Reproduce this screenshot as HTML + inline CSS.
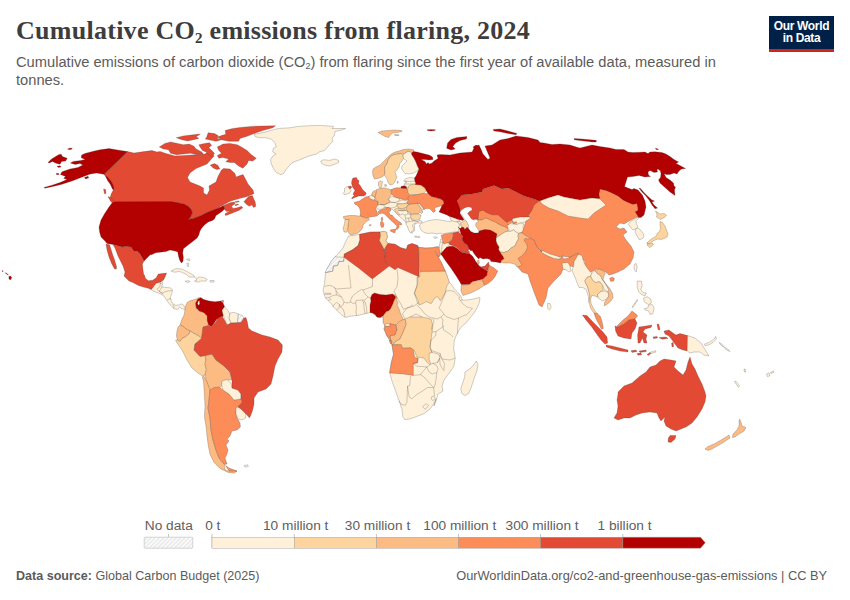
<!DOCTYPE html>
<html lang="en">
<head>
<meta charset="utf-8">
<title>Cumulative CO2 emissions from flaring, 2024</title>
<style>
html,body{margin:0;padding:0;background:#fff;}
body{width:850px;height:600px;position:relative;overflow:hidden;font-family:"Liberation Sans",sans-serif;color:#5b5b5b;}
.abs{position:absolute;white-space:nowrap;}
#title{left:16px;top:15px;font-family:"Liberation Serif",serif;font-weight:bold;font-size:26px;line-height:32px;color:#3d3d3d;letter-spacing:0.27px;}
#title sub{font-size:15px;vertical-align:baseline;position:relative;top:4px;line-height:0;}
#subtitle{left:16px;top:52.5px;font-size:14.68px;line-height:18.5px;color:#5b5b5b;white-space:normal;width:720px;}
#subtitle sub{font-size:9px;vertical-align:baseline;position:relative;top:2px;line-height:0;}
#logo{left:769px;top:16px;width:65px;height:33px;background:#002147;border-bottom:3px solid #ce261e;color:#fff;font-weight:bold;font-size:12px;line-height:11.5px;text-align:center;letter-spacing:-0.35px;}
#logo span{display:block;}
.lg{font-size:13.7px;line-height:16px;color:#606060;top:518px;transform:translateX(-50%);}
#src{left:16px;top:568px;font-size:12.55px;line-height:16px;color:#5b5b5b;}
#src b{color:#5b5b5b;}
#url{right:23px;top:568px;font-size:12.8px;line-height:16px;color:#5b5b5b;}
svg{position:absolute;left:0;top:0;}
.b{fill:none;}
</style>
</head>
<body>
<div id="title" class="abs">Cumulative CO<sub>2</sub> emissions from flaring, 2024</div>
<div id="subtitle" class="abs">Cumulative emissions of carbon dioxide (CO<sub>2</sub>) from flaring since the first year of available data, measured in tonnes.</div>
<div id="logo" class="abs"><span style="margin-top:5px">Our World</span><span>in Data</span></div>
<svg width="850" height="600" viewBox="0 0 850 600">
<defs><pattern id="nd" width="3" height="3" patternUnits="userSpaceOnUse" patternTransform="rotate(45)"><rect width="3" height="3" fill="#fff"/><path d="M1,0 V3" stroke="#e2e2e2" stroke-width="1.3"/></pattern></defs>
<g stroke="#333" stroke-opacity="0.6" stroke-width="0.4" stroke-linejoin="round">
<path fill="#b30000" d="M48,162.4 51.6,159 55.6,156.6 59,154.4 61.2,154.2 62.4,156.6 67.2,158.2 65.6,161 61.6,161.6 60,164.2 56,163.2 52.4,161.4 49.2,163Z"/>
<path fill="#b30000" d="M67.6,149 70,148 72.4,148.4 71.2,149.4 68.4,149.6Z"/>
<path fill="#b30000" d="M57,166.2 60,165.8 61.2,167 58.4,167.4Z"/>
<path fill="#b30000" d="M56,173.6 58.4,173.2 59.2,174.4 56.8,174.8Z"/>
<path fill="#e34a33" d="M127.6,151.6 134,153 144,151.6 152,150.6 157,152 160,151.4 166,153.5 175,156 184,155.5 192,155 205,154 211,150 214,156 207,164 196,168.5 190,173 187.5,177.5 190,182 200,186 203.5,188 203.5,193 207,195 209.5,190 209,186 216,182 218,176.5 221.5,170 223.5,168.5 230,169 235,173.5 236,177 243,174.5 246,180 248,184 253,190 254,193.5 252.1,194.4 246.4,196.8 239.3,198.6 230.8,201 224.5,204.3 220.2,206.4 219.5,207.7 213.8,209.8 206.8,212.6 201.1,215.5 194,218.3 188.3,219.4 190.5,216.9 192.3,213.3 191.5,209.8 188.3,206.3 184.1,204.1 178.4,203.1 172.8,202.7 171.3,201.7 160,201.7 114.4,201.5 112,200.6 110,198 111.2,194 113.2,190.2 112.8,187 111,183 108,179.4 104.4,174Z"/>
<path fill="#e34a33" d="M222.3,206 225.2,204.8 230.8,202.6 234.4,202.1 235.1,203.7 231.5,206.3 233,208.4 237.2,207.7 241.5,206.3 242.9,207.7 239.3,210.2 233.7,212.6 228,214.8 225.5,215.6 224.9,214 228,211.9 230.8,210.5 226.6,211.4 224.5,209.4 224,206.5Z"/>
<path fill="#e34a33" d="M108,196.6 110.4,197.4 113.2,200.6 115.2,204.2 113.6,204.6 110.4,201Z"/>
<path fill="#e34a33" d="M103.6,189 105.6,189.4 106,193.4 104.4,193.8Z"/>
<path fill="#e34a33" d="M225.1,130.6 231.5,128.8 240,127.4 251.3,126.4 262.7,126 275.4,125.7 272.9,127.8 262.7,130.6 254.2,133.5 247.1,136.3 240,138.4 238.6,141.3 228.7,141.3 221.6,139.8 217.3,137 221.6,135.6 225.8,134.2Z"/>
<path fill="#e34a33" d="M208.1,132.8 214.5,133.5 218,135.6 217.3,138.4 221.6,139.8 215.9,141.3 208.8,139.8 205.3,139.1 206.7,137Z"/>
<path fill="#e34a33" d="M176.3,137.7 183.3,135.9 189,135.3 197.5,134.2 200.3,134.2 196.1,136.7 198.9,138.4 193.3,139.8 187.6,141 181.9,139.8Z"/>
<path fill="#e34a33" d="M159.3,146.9 164.9,143.4 170.6,142 177.7,143.4 183.3,144.8 189,144.1 194,146.2 196.1,149 201.8,151.9 203.2,154 197.5,154.7 190.4,153.3 183.3,154 176.3,154.7 170.6,153.3 168.5,149.8 163.5,149Z"/>
<path fill="#e34a33" d="M198.9,144.8 204.6,143.4 209.5,142.7 211.7,145.5 208.8,147.6 211.7,150.5 214.5,153.3 211.7,156.8 208.8,154.7 206,151.9 202.5,150.5 200.3,147.6Z"/>
<path fill="#e34a33" d="M217.3,146.9 223,144.1 230.1,143.4 237.2,144.8 241.4,146.9 247.1,150.5 251.3,154.7 256.3,158.3 252.8,161.1 248.5,160.4 247.1,163.9 242.8,168.2 238.6,166 234.3,162.5 230.1,162.5 225.8,161.8 228.7,159 223,157.5 218.8,158.3 217.3,155.4 221.6,153.3 218.8,150.5Z"/>
<path fill="#e34a33" d="M210.3,165.1 214.5,163.6 218,165.6 219.9,168.9 216.6,169.6 213.1,167.9Z"/>
<path fill="#e34a33" d="M243.9,201.7 248.5,196.6 252.4,195.6 253.8,198.9 255.2,202 255.8,206.3 253.5,207.4 251.8,204.8 249.3,206.3 246.7,204.6Z"/>
<path fill="#e34a33" d="M234.8,204.8 237.9,204 238.6,204.8 235.4,205.7Z"/>
<path fill="#e34a33" d="M234.8,201.7 238.8,200.9 239.3,201.7 235.8,202.6Z"/>
<path fill="#b30000" d="M127.6,151.6 119,150.2 109,148.6 100,149.8 92.4,151.4 85,153.4 81.6,155 81.2,157.8 85.2,159.4 80.8,160.6 73.2,161.4 70.4,163 75.2,164.4 80,163.6 82.8,165 78,167.4 70,169 62,171.8 60.4,174.4 65.6,176.6 63.6,178.2 67,179.4 60,182.6 52,185.2 44,187.4 44.8,188.2 54,186.2 62,184.2 72,181 81,177.6 89.6,174.2 96.4,173 103.6,174.2 108,177.4 111.2,181.4 113.2,185.4 114,189.4 112.4,189 110.4,184.6 107.6,180.6 104.4,174Z"/>
<path fill="#b30000" d="M84.4,177.4 88,176.2 88.8,177.8 85.6,179Z"/>
<path fill="#b30000" fill-rule="evenodd" d="M184,204 171,201.6 114.4,201.6 112,203 109,207 105,213 101,220 99,227 99.6,232 101,237 105,241 107,243.6 113,244.4 122,247 126,246.4 131,247 134,251.6 137,251 140,254 142.4,258 144,261.2 146,259 150,255 151.1,254.4 151.5,254.7 155.7,252.7 160,252.3 162.2,251.9 166,251.6 170,250 175,251 177.8,252.1 178.4,255.8 179.6,260.1 181.3,262.9 183,261.5 183.4,257.3 182.7,253 183.4,248.8 186.2,246.6 189.8,243.8 193.3,241 197.1,238.1 199,234.6 199.7,231.8 201.1,228.9 203.9,225.4 208.2,222.1 212.4,220.4 214.5,219 216,215.5 219.5,213.3 222.3,211.2 224.5,209.1 224,206.5 222.3,206 219.5,207.7 213.8,209.8 206.8,212.6 201.1,215.5 194,218.3 188.3,219.4 190.5,216.9 192.3,213.3 191.5,209.8 188.3,206.3 184.1,204.1 184,204.1Z"/>
<path fill="#b30000" d="M8.8,276.5 10.6,276 11.8,277.8 10.4,280 9,279Z"/>
<path fill="#b30000" d="M2,270.6 3,270.8 3.2,271.6 2.2,271.4Z"/>
<path fill="#b30000" d="M5,272.6 7,273.4 8.5,275 7,274.6Z"/>
<path fill="#e34a33" d="M106,244 109.6,244.8 111.2,250 112.6,254.4 114.6,260 116.6,267 116.2,269.2 114.4,268.8 111.6,263.6 109,257 107,250Z"/>
<path fill="#e34a33" d="M113,244.4 122,247 126,246.4 131,247 134,251.6 137,251 140,254 142.4,258 144,261 142.4,264 143,270 144,276 144.2,274.8 145.6,278.4 148.4,280.8 152.7,280.2 156.2,277.7 158.3,274.1 166.6,273.1 165.4,276.3 163.7,279.8 161.9,281.2 160.5,282.2 156.2,283.3 153.4,286.9 151.3,289.7 148.4,288.3 144.2,287.3 138.5,285.5 132.8,282.6 129,281 124,276 125,272 123,266 118,256 115,248Z"/>
<path fill="#fef0d9" d="M151.3,289.7 153.4,286.9 156.2,283.3 160.5,282.2 161.9,281.2 162.9,283.3 161.9,286.9 165.4,287.3 170.4,287.9 172.5,289.7 171.8,293.3 170.4,297.5 171.1,300.3 172.5,303.2 175.3,305.3 178.9,304.9 181.7,303.9 183.8,305.3 185.3,308.1 184.5,309.5 181.7,308.6 179.6,307.1 177.5,309.5 174.6,308.8 171.8,306.7 169,303.2 166.1,299.6 164,296.1 160.5,294 156.9,292.5 153.4,291.1Z"/>
<path class="b" d="M160.5,282.2 159.8,286.9 156.9,289 159,291.1"/>
<path class="b" d="M159.8,283.3 162.3,284"/>
<path class="b" d="M161.9,286.9 160.5,289.7 159,291.1 161.9,293.3 164.7,291.8 168.3,291.1 172.2,290.4"/>
<path class="b" d="M159,291.1 163.3,294"/>
<path class="b" d="M167.1,300.1 169.7,298.6 171.1,299.2"/>
<path class="b" d="M172.5,303.9 174.2,306 173.6,308.6"/>
<path fill="#fef0d9" d="M171,271 176,268.6 182,269 188,272 194,275.6 195.2,277.2 189,277 186,274.2 180,271.6 174,272.2Z"/>
<path fill="#fef0d9" d="M195.6,278.4 199,277.2 203,277.2 207.2,279.2 206,281.2 201.2,281 198,282.2 194.4,281 197,280Z"/>
<path fill="#fef0d9" d="M185.2,281.2 188,280.6 190,281.6 187.6,282.6Z"/>
<path fill="url(#nd)" d="M210,280.5 214,280.5 214.3,282.1 210.3,282.2Z"/>
<path fill="#fef0d9" d="M186.4,259.2 189.6,258.8 190,260.4 187.6,260.4Z"/>
<path fill="#fef0d9" d="M186.8,263.2 188.4,263 188.8,266.4 187.4,266.4Z"/>
<path fill="#fdbb84" d="M185.6,306 187.2,302.4 190,300.8 196,299 199.2,297.4 200.4,298.4 198,301 195.6,305 197,310 202,312 207,313 208,319 208.4,325.6 203.6,327 202.4,332 201.6,338.4 199,336 195,334 190,331 186,329 183,326.4 180,325 181.6,320 184,315 185,310Z"/>
<path fill="#fdbb84" d="M180,325 183,326.4 186,329 190,331 189,334 185,337 182,338.4 180,341.6 177.6,340 176.4,336 177,331 178,327Z"/>
<path fill="#fdd49e" d="M180,341.6 182,338.4 185,337 189,334 190,331 195,334 199,336 201.6,338.4 195,344 194,350 200,356.4 205,355.6 206,360 205,364 206.4,370 205,375 203,376.4 198,373 192,368 187,360 182,350 177,343 175.6,340 177.6,340Z"/>
<path fill="#fdbb84" d="M205,355.6 212,354 216,360 224,366 230,372 232,380 227,380 222.4,382 221.6,386 219,388 214,389 210,392 208,386 206,380 205,375 206.4,370 205,364 206,360Z"/>
<path fill="#fdbb84" d="M203.6,376 207,382 210,390 209,400 208,408 210,418 211,430 213,440 216,450 219,458 224.4,464.4 225.2,470 229,471.2 237,471.2 234,473.2 228,472.4 220,468.4 214,462.4 210,454.4 208.4,446.4 207,436.4 206,426.4 204.4,416.4 205,406.4 204.4,394.4 203.6,382.4 202.4,377Z"/>
<path fill="#fc8d59" d="M210,390 214,387.6 219,387 223,390 229,394 234,400 241,399 242.4,402 238,407 236,413 237,418 240,423 240.4,427 237,430 232,431 230,436 227,439 229,441 226,445 228,450 227,454 225,458 227,464 224.4,464.4 219,458 216,450 213,440 211,430 210,418 208,408 209,400Z"/>
<path fill="#fc8d59" d="M225.6,465.6 229,468 237,471 229,471Z"/>
<path fill="#fef0d9" d="M222,381 227,379.6 231,383 232,388 238,390 241,394 241,399 234,400 229,394 223,390 221.6,385Z"/>
<path fill="#fef0d9" d="M236,408 238,406.8 241.2,408.8 246,413 245.6,418 242,420 238,419 236,414Z"/>
<path fill="#b30000" d="M195.5,303.2 197.7,299.2 200.8,297.5 203.7,299.6 209.3,301 215,301.8 220.7,301 222.8,302.5 224.6,306.7 222.1,310.3 223.5,315.9 220.7,317.3 216.4,319.5 214.3,323 211.5,326.5 208.6,325.1 207.2,320.2 207.2,315.9 203.7,312.4 199.4,311 196.3,308.1Z"/>
<path fill="#fff" d="M198,301.5 199.4,300.6 199.7,303.9 198.6,305.3 197.6,303.9Z"/>
<path fill="#fef0d9" d="M222.1,310.3 224.6,306.7 227.8,310.3 229.9,313.8 229.2,318.8 231.3,323 227.8,325.1 225.6,321.6 223.5,315.9Z"/>
<path fill="#fef0d9" d="M230,313 234,312.4 238.4,314 238,319 237.6,322.8 231,323 229,318Z"/>
<path fill="url(#nd)" d="M238.4,314 242.4,315.6 244,318 241,322.4 237.6,322.8 238,319Z"/>
<path fill="#e34a33" d="M203,327 208.4,325.6 211,326.4 215,323 218,318 222,316 225,321 227,325 231,323 237.6,322.8 241,322.4 244,318 246,317.6 247.6,323 248.4,328 252,331 262,335 270,337 278,340 282.4,345 282,352 278,359 275,366 273,376 271,384 266,389 258,392 254,398 254,404 252.4,411 249.6,418 247,415 241,409 238,407 242.4,402 241,399 241,394 238,390 232,388 232,380 230,372 224,366 216,360 212,354 205,355.6 200,356.4 194,350 195,344 201.6,338.4 202.4,332Z"/>
<path fill="#fc8d59" d="M221.4,300.6 223.5,300.3 223.6,302.2 221.7,302.5Z"/>
<path fill="#fef0d9" d="M244,465.6 247.6,464.8 248.4,466.4 245.2,467.2Z"/>
<path fill="#fef0d9" d="M348.5,236 353.9,235.4 359.6,234.3 370.9,232.1 380.1,232 383.7,231.4 386.5,232.1 387.4,237.1 385.9,240.6 387.9,243.5 395,244.2 400.7,247.7 406.3,249.3 407.8,245 412,243.6 417.7,245.6 418.4,247.3 425.5,248.1 432.6,247.7 437.1,246.7 439.7,247.3 440.5,251.3 440,255.8 438.3,256.9 441.1,261.9 445.3,271.1 447,276 449,282 452,285 454,288.5 458,292.5 461,296.5 461.5,298.5 462.5,300 467,300 473,299 480,297.5 479.5,302 477,308 474,313 470,318 466,323 462,326 458,331.6 454.4,340 453.6,348 455.2,358 454,366 450,372 444,380 442,386 443,391 438,394 436.4,400 434,406 436,398.8 433.8,403.8 429.6,409.4 423.9,413.7 416.8,416.5 410.5,418.8 404.8,419.6 402.7,416.5 402,409.4 399.1,400.9 395.6,391 392,381.1 389.6,372.6 391.3,362.7 393.5,354.2 392,345 389.9,340 391,343 387,336 384,329 385,324 383.5,322 383,318.5 382,317 378.5,317.8 376,316.5 374,314.5 372.5,313 370,312.5 364,314 358,315.5 352,316 349,316.5 345.5,317.5 343,316 339.5,313 336.5,310 333.5,307 331,303.5 328,300.5 325.5,298 324,294 323,290 324.5,284 325,278 325.5,273 327.3,268.3 331.3,261.5 334.8,256.9 338.1,253.8 342.9,248.1 345.4,242Z"/>
<path fill="#fef0d9" d="M476.3,361 478,364.8 477,370.5 474.2,378.3 471.4,386.8 468.5,393.8 465,395.5 461.9,393.6 460.8,388.2 462.9,382.5 464.7,376.8 465,371.9 470.7,368.3 474.2,364.1Z"/>
<path fill="url(#nd)" d="M334.8,256.9 344,257.2 343.7,261.2 339,261.5 337.6,265.4 333.4,266.1 332.7,271.1 325.9,272.5 324.9,272.5 327.3,268.3 331.3,261.5Z"/>
<path fill="#e34a33" d="M359.6,234.3 370.9,232.1 380.1,232 380.6,235.7 379.4,240.6 381.5,244.2 384.4,249.8 385.1,258.3 386.5,263.3 389.3,266.1 380.8,272.5 372.3,278.9 369.5,276.8 358.9,268.3 344,257.2 344.3,254.1 352.5,249.8 358.2,245.6 359.9,239.9Z"/>
<path fill="#fdd49e" d="M380.1,232 383.7,231.4 386.5,232.1 387.4,237.1 385.9,240.6 387.9,243.5 385.8,247 384.4,249.8 381.5,244.2 379.4,240.6 380.6,235.7Z"/>
<path fill="#e34a33" d="M384.4,249.8 385.8,247 387.9,243.5 395,244.2 400.7,247.7 406.3,249.3 407.8,245 412,243.6 417.7,245.6 418.8,248.4 419.1,276.8 415.5,275.3 397.8,267.5 395,269.7 389.3,266.1 386.5,263.3 385.1,258.3Z"/>
<path fill="#fc8d59" d="M418.4,247.3 425.5,248.1 432.6,247.7 437.1,246.7 439.7,247.3 440.5,251.3 440,255.8 438.3,256.9 435.4,251.3 434.9,251.5 441.1,261.9 445.3,271.1 419.8,271.4 418.7,249.8Z"/>
<path fill="#fdd49e" d="M419.8,271.7 445.3,271.4 447.5,276.8 449.3,282.1 446.8,286 445.3,292.3 443.2,296.6 440.4,300.8 437.5,296.6 434.7,298 431.2,303.7 426.2,301.5 422.7,303.7 419.1,305.1 417.7,299.4 414.2,293.8 415.6,289.5 417.7,283.8 417.7,277 419.8,276.8Z"/>
<path fill="#b30000" d="M372,294.5 374.5,293 380,294.5 386,295 392.5,294 394,295 396,297 394,301 392.5,305 390.5,309 388.5,311 386.5,311.5 384.5,314 383,316 380,317.5 377,317 375,314.5 372.5,313 370,312.5 370,305 371,301 370.5,298Z"/>
<path fill="#fdbb84" d="M394,295 395.5,294.5 397,297 396.5,300 398,303 397,305 399,309 401,315 403,319 405,324 404,329 386,329 384.5,325 383,323 383.5,315.5 384.5,314 386.5,311.5 388.5,311 390.5,309 392.5,305 394,301 396,297Z"/>
<path fill="#fef0d9" d="M385,324 390,323.8 390,326.4 385.2,326.4Z"/>
<path fill="#fc8d59" d="M385.2,326.4 390,326.4 390,323.6 396,325 397,330 395,335 390,336 391,341 387,336 384,329Z"/>
<path fill="#fdbb84" d="M396,325 400,321 405,319 406.4,324 403.2,332 400,339 395,342 392.4,345 391,343 391,341 390,336 395,335 397,330Z"/>
<path fill="#fdd49e" d="M405,319 410,317 422,317 431,319 433,326 432,332 431,340 430,347 432,352.4 429.2,353.2 429.2,360 430.8,363.6 429.6,364.4 426,361 424,358 417,357 414,350 410,348 400,348 398,344.4 392.4,345 395,342 400,339 403.2,332 406.4,324Z"/>
<path fill="#fc8d59" d="M392,345 401.3,344.5 402.7,348.5 410.5,347.8 413.3,349.9 414.7,357.7 418,358.1 417.5,362.7 413.3,363.4 413.3,375.4 403.4,374 389.6,372.9 391.3,362.7 393.5,354.2Z"/>
<path fill="#fc8d59" d="M389.6,340.4 392,341 391.6,344 390,343.2Z"/>
<path class="b" d="M359.6,234.3 359.9,239.9 358.2,245.6 352.5,249.8 344.3,254.1 344,257.2"/>
<path class="b" d="M344,257.2 343.7,261.2 339,261.5 337.6,265.4 333.4,266.1 332.7,271.1 325.9,272.5"/>
<path class="b" d="M419.1,276.8 417,277.5 417,286 414.6,292.3 416,298 417.7,303.7"/>
<path class="b" d="M395.7,295.5 400.7,303.7 403.5,309.3 409.2,307.2 413.1,304.8"/>
<path class="b" d="M405,319 402.4,314 407,308 414,306 419,302.4"/>
<path class="b" d="M410,317 416,314 422,317"/>
<path class="b" d="M432,332 436,331.6 435.6,336 431,340"/>
<path class="b" d="M436,331.6 444,326"/>
<path class="b" d="M432,352.4 438,354 442,359 450,360 455.2,358"/>
<path class="b" d="M431,340 430,347 432,352.4"/>
<path class="b" d="M418,358.1 417.5,362.7 413.3,363.4 416.8,366.2 426.8,366.9 432.4,363.4 437.4,362.7 439.5,358.4 440.2,353.5 433.8,351.3 431.7,350.6"/>
<path class="b" d="M440.2,353.5 441.6,358.4 444.5,363.4 443.8,370.5 442.1,368.3 440.2,364.8 439.5,358.4"/>
<path class="b" d="M437.4,362.7 439.5,358.4"/>
<path class="b" d="M426.8,366.9 428.9,371.9 432.4,374 436.7,372.6 438.1,369 436.7,365.5 432.4,363.4"/>
<path class="b" d="M436.7,372.6 436,379.7 434.5,386.8 433.6,387.5"/>
<path class="b" d="M413.3,375.4 420.4,374.7 426.8,366.9"/>
<path class="b" d="M410.5,376.1 409.8,385.3 407.6,386 409,396.7 411.9,398.8 416.8,394.5 422.5,391 427.5,387.5 433.6,387.5 428.9,382.5 423.9,376.8 420.4,374.7"/>
<path class="b" d="M407.6,386 406.9,402.3 405.5,405.2 401.3,404.5 399.1,400.9"/>
<path class="b" d="M433.6,387.5 434.5,396"/>
<path class="b" d="M422.5,406.6 426,403.8 428.5,405.5 425.3,409.4 422.5,406.6"/>
<path class="b" d="M431.7,396.7 433.8,396 435,398.4 433.1,400.6 431.3,399.2 431.7,396.7"/>
<path class="b" d="M446.2,291 450,290.5 454,291.5 457,294.5 459.5,297"/>
<path class="b" d="M459.5,297 459,299 460.5,300.5 462.5,300"/>
<path class="b" d="M446.2,291 444,296 441.5,302 440.5,305 439,308 441.5,311 444,314"/>
<path class="b" d="M444,314 446,316.5 450,318 454,319.5 458.5,318 463,316 467,314.5 470,311 472.5,308.5 467,307 463,304 460.5,300.5"/>
<path class="b" d="M458.5,318 458,324 457.5,330 458,334"/>
<path class="b" d="M444,314 441,317 437,319 433,318 429,317 425,314 420,308 417,305"/>
<path class="b" d="M441,317 443,320 442.5,324 443.5,330"/>
<path class="b" d="M433,318.5 434,322 432,326 431.5,330"/>
<path class="b" d="M443.5,330 450,334 453,337"/>
<path class="b" d="M348.5,265 351,288 336,289 334.5,287.5 331,285.5 328,285.5 324.5,286.5"/>
<path class="b" d="M334.5,287.5 336,291 336.5,295 333,295.5 329,297.5 325.5,298"/>
<path class="b" d="M324.5,293.3 331,293.3 331,294.3 324.5,294.4"/>
<path class="b" d="M329,297.5 331,299.5 328,300.5"/>
<path class="b" d="M336.5,295 341.5,297 344,302 343,305 340.5,307 339.5,304.5 336.5,302.5 334.5,304 333,307"/>
<path class="b" d="M339.5,304.5 339,308 336.5,310"/>
<path class="b" d="M340.5,307 343,309 344.5,313 345,317.2"/>
<path class="b" d="M336,291 341.5,297"/>
<path class="b" d="M372.5,279 372.5,286.5 363,290 361.5,289.5 357.5,292 352.5,296 350.5,300.5 351,302 347,303 344,302"/>
<path class="b" d="M351,302 353,303.5 355.5,303 356,300.5 362,300 365,300 368,297 365,294 363,290"/>
<path class="b" d="M355.5,303 356.5,307 356,312 356.5,316"/>
<path class="b" d="M362,300 363.5,302 364,307 365,314"/>
<path class="b" d="M363.5,302 365,301.5 366.5,307 367,313.5"/>
<path class="b" d="M368,297 370.5,298"/>
<path class="b" d="M397,268 398,278 397,287 394,291 395.5,294.5"/>
<path fill="#fef0d9" d="M254.3,134.2 258.5,133.5 265.6,132 272.7,129.9 278.3,128.5 289.7,127.8 298.2,126.4 309.5,125.7 320.8,125.4 333.6,126.4 332.2,128.5 345.6,128.5 340.7,130.2 335,131.6 334.3,135.6 332.2,138.4 332.9,141.3 329.3,144.8 327.2,147.6 324.4,150.5 319.4,151.9 316.6,154 310.9,155.4 305.3,157.5 298.2,160.4 292.5,162.5 289,166 286.1,169.6 283.3,173.8 280.5,174.5 276.2,172.4 273.4,168.2 271.3,163.9 270.5,159.7 272.7,156.1 276.2,154 272.7,151.9 273.4,148.3 276.2,146.9 274.8,142.7 271.3,139.1 265.6,137.7 258.5,137.7 255,136.3Z"/>
<path fill="#fef0d9" d="M320.8,161.1 323.7,159.7 329.3,160.4 335,159 338.5,160.4 338.5,162.5 335,164.2 329.3,166 324.4,165.1 321.5,163.2Z"/>
<path fill="#fdbb84" d="M378,132.5 382,131 388,130.5 395,130 401.5,130.5 402,131.5 397,132.5 392.5,133 390.5,135 388.5,137.5 385,136.5 381.5,134.5Z"/>
<path fill="#fdbb84" d="M394.5,134.5 399,134.8 398.8,135.6 395,135.6Z"/>
<path fill="#b30000" d="M427,129.8 431,129.4 435.5,129.8 435,130.6 431,131 427.5,130.5Z"/>
<path fill="#fef0d9" d="M368.8,196.5 374.5,195 380,204.5 385,204.5 390,199 396,197.5 402,199 409,198 410,203 406,208 410,213.5 411,215 412,220 416,221 417,222.5 414.5,225 414.5,229 412,233.5 410,231 408,227 405,221 400,217 396,213 392,209 388,207.5 384.5,207.5 381,209.5 377,209 376,206 378,202 374.5,199.5Z"/>
<path fill="#fef0d9" d="M406.5,222 410,221.5 413.5,221 417,221.5 420,220.5 420.5,222.5 417,223 414,223.5 412.5,225 413.5,228.5 414.5,230.5 412,231 410.5,233 408.5,230 407.5,226.5 406,224.5Z"/>
<path fill="#fef0d9" d="M414.5,236.2 419.5,236.5 419.8,237.5 415,237.2Z"/>
<path fill="#fdbb84" d="M403,149.5 409,149 414,150 413.5,151.5 411.5,153 409.5,151.5 407,152 404,154 401,153.5 398,154 395,154.5 393,155 390,157 388,160 387,164 385,166 384.5,169 385,172 384.5,175 382,177 378,178.5 374.5,179 373,176 372.5,172 373,169 376,167 380,165 383,162 386,159 389,156 392,153.5 395,152 399,151Z"/>
<path fill="#fdd49e" d="M398,154 401,153.5 403,155 403.5,158.5 402,161 400,163 399,167 397,170 395,172 396,175 397,177 395.5,180 394.5,182.5 392.5,184.5 390,185 388,182.5 387,179 385,176 384.5,175 385,172 384.5,169 385,166 387,164 388,160 390,157 393,155 395,154.5Z"/>
<path fill="#fdd49e" d="M397,182 398,181 398.2,183 397.4,183.5Z"/>
<path fill="#fef0d9" d="M404,154 407,152 409.5,151.5 411.5,153 412,155 414,158 416,162 417.5,166 419,169 417,171 414,173 409,174 405,173.5 403,171 401.5,168.5 402,166 405,163 407,161 406,160 403.5,158.5 403,155Z"/>
<path fill="#fef0d9" d="M404,180 406,178.5 410,177.5 414.5,178 415,181 416,184 415,184.5 410,186.5 406.5,188.5 406,186.5 404,185.5 405,183 407,182 404,181.5Z"/>
<path class="b" d="M405,181 410,181.5 415,181"/>
<path class="b" d="M404.5,184 410,184 415.5,184.2"/>
<path fill="#fef0d9" d="M344.5,188.5 347,186.5 348.5,186.5 348.8,188 350,189 351.2,190.5 350,192.5 347.5,194 344,194.5 343.2,193.5 344.5,191.5Z"/>
<path fill="#e34a33" d="M348.5,186.5 351,186 351.8,187.5 350,189 348.8,188Z"/>
<path fill="#e34a33" d="M353,178 356.5,177.5 357.5,180 359,180.5 358.5,183.5 360.5,186 362.5,189.5 364.5,191.5 366.2,193 365.5,195 363.5,196 359,196 355.5,197.2 352,198.8 351.5,198 354.5,195.5 353,194.5 354,192 355,190.5 352.5,187 351.5,183 352,180Z"/>
<path fill="#fc8d59" d="M354,202.5 359.5,201 361.5,199.5 366,196.8 368.5,196.5 370,198.5 374.5,199.5 378,202 378.5,204.5 377,206 375.5,208 376.5,210.5 377.5,213 379,214 377,216 374,216.5 370,217 367,218 363,217 360,216 360.5,212 359.5,208 357.5,205.5 355,204.2Z"/>
<path fill="#fc8d59" d="M381.2,217.7 382.4,217.2 382.8,219.5 382,221.2 381.2,220Z"/>
<path fill="#fdbb84" d="M343.5,216.5 349,215.5 355,215.5 360,216.2 365,217.8 369.5,218.8 369,220 366,222 363,225 362.5,228 360,231.5 357,233.5 353,234.5 350.5,235 348.5,232.5 347.5,230 348,226 348.5,222 349,219.5 345,219.5 343.5,218Z"/>
<path fill="#fdd49e" d="M345,219.5 349,219.5 348.5,222 348,226 347.5,230 346.8,232.2 344,232 343,228 344.5,224Z"/>
<path fill="#fdbb84" d="M369,225 371,224.5 371.2,225.5 369.5,225.8Z"/>
<path fill="#fef0d9" d="M368.8,196.5 371.5,195.5 374.5,197 375,199.5 373,200 370,198.5Z"/>
<path fill="#fdbb84" d="M371.5,195 372.5,192 374.5,190.5 376.5,190.8 376,194 375,197 374.5,197 373,195.8Z"/>
<path fill="#fdbb84" d="M376.5,189.5 380,188.5 384,187.8 387,188.5 390.5,189.5 391.5,194 390,197 388,199 390,202 387,203.5 385,204.5 380,204.5 377.5,205 378.5,202 376,199.5 375,197 376,194 376.5,190.8Z"/>
<path fill="#fdd49e" d="M378.5,182 380.5,180.8 382.5,181.5 382,184.5 381.5,187.5 379.5,187.8 378.5,185.5Z"/>
<path fill="#fdd49e" d="M384.5,184.7 386.2,184.5 386.6,186.2 385,186.6Z"/>
<path fill="#fc8d59" d="M391,189.5 396,187.8 401,187.8 406.5,188.5 409,190 410,194 409,197 410,199 406,200 402,199 398,198 394.5,197 391.5,194Z"/>
<path fill="#b30000" d="M401,186.5 404,185.8 406.5,186.8 406.5,188.5 401,188Z"/>
<path fill="#fef0d9" d="M388,199 392,196.5 396,197.5 400,199 398,201.5 394.5,202.5 391,202 390,200.5Z"/>
<path class="b" d="M398,201.5 402,200 408,201 407,203 402,204 398.5,203.5 397.5,204"/>
<path class="b" d="M385,204.5 390,202.5 394.5,202.5 397.5,203.5 396.5,206.5 392,208 388,207.5 385,207"/>
<path class="b" d="M384.5,207.5 384,205 380,204.5"/>
<path fill="#fdd49e" d="M397.5,204 402,204 407,203 408.5,204.5 406,207.5 401,209 398,207.5 397,205.5Z"/>
<path fill="#fdbb84" d="M408.5,204.5 412,203.5 417,203 419,205 421,209 423,212 421.5,213.5 420,212 418,214 414,214 410,213.5 407,211 406,208Z"/>
<path fill="#fef0d9" d="M417,203 420,204 422.5,207 424,209.5 422,210 420.5,207 418.5,205Z"/>
<path fill="#fdd49e" d="M411,214.5 418,214.2 421,215 420,219 416,220.5 412,220 410.5,217Z"/>
<path fill="#fdd49e" d="M394.5,209.2 398,208.2 401.5,209.2 405,208.8 405.5,210.5 402,210.8 398.5,210.2 397.5,212 400,215 398.5,215 395.5,212Z"/>
<path class="b" d="M398.5,210.2 402,210.8 405.5,210.5 407.5,211 408,214"/>
<path class="b" d="M400,215 402.5,214 405,215 408,214 411.2,215"/>
<path class="b" d="M405,215 405.5,218.5 406.5,222"/>
<path class="b" d="M405.5,218.5 408.5,218 411.2,218"/>
<path class="b" d="M408.5,218 409,221.5"/>
<path fill="#fc8d59" d="M378.5,211 383,209 388,207.5 391,209 390.5,211 389,212 390,215 392,215 394.5,218 397.5,220.5 400.5,222.5 402.2,224.2 400.5,225 398.8,224.5 399.2,227 397.2,229.7 396,228.7 397,226.2 394.5,223.5 391,220.5 388,217.5 385.5,215 384.5,214 382,213 380,214 378.5,213Z"/>
<path fill="#fc8d59" d="M380.5,222 382.5,221.5 384,224 383.5,227 381.5,227.5 380.5,225Z"/>
<path fill="#fc8d59" d="M390,230 395.5,229 396,230 394.5,233 391,231.5Z"/>
<path fill="#fdd49e" d="M410,185 415,184 421,185 425,188 426.5,191 423,193.5 418,194.5 413,194.5 410,195 408,193 407.5,189 408.8,186Z"/>
<path fill="#fc8d59" d="M410,195.5 413,195 418,194.5 423,193.5 428,193.5 431.5,196.5 436,197.5 441,199 443.5,201 444,203.5 442,205.5 439,206.5 435.5,207.5 434.5,209 435.5,211 433.5,212.5 431.5,210.5 429.5,208.5 426,208.5 424,209.5 422.5,207 420,204 417,203 413,204 410,204 407,203.5 408.5,200 407.5,198Z"/>
<path fill="#fef0d9" d="M419.5,225 422,223 427,221 432,220 437,219.5 443,220.5 449,221.5 454,220.5 457,221.5 459.5,224 459,227 458.5,230 459.5,231.5 455,232 450,232.5 445,233.5 442,234 440.5,233 437,234 432,233 428,233.5 424,232.5 421,230 420,227.5Z"/>
<path fill="#fef0d9" d="M417,221.5 420,220.5 422.2,221.5 421.5,222.8 419,223.2Z"/>
<path fill="#fef0d9" d="M433.5,237.2 436,236.8 437.5,237.5 435,238.6Z"/>
<path fill="#b30000" d="M411.5,153 413.5,151.5 417,152 423,153.5 429,155 432.5,157 433,159.5 429,160 425,159.5 421,159.5 423,160.5 425,161.5 426.5,164 428,162.5 429.5,164 432,163 434,161 438,158.5 437,155 440,154.5 450,155 460,153 472,152 475,146 479,145 483,154 488,159.4 490,158 487,151 485,146 492,145 500,140 508,138.6 516,136 528,137.4 538,140 540,142.6 544,143 552,144.6 560,144 570,145 578,147.4 580,148 588,146 592,145 600,146.6 610,148 616,149.5 624,149.5 628,152 633,152.5 640,152.2 645,152 648,153.5 650,152 655,151.8 662,152.5 666,154 670,156.5 674,159.5 678.5,162 676,163.5 680,165.5 685.5,168.5 681.5,169 679,171 677,174 674,173 670,174.5 666,174.5 664,173.5 666,177.5 670,180 673.5,183 674,186 675.5,187 674.5,190 675,195.5 670,192 665,187.5 660,183 658.5,180 660.5,177.5 661,174 660.5,171 658,169 657,170 657.5,172 654,172.5 650,170.5 648,172 648.5,175 650.5,176.5 645,177 639,175.5 633,176.5 627.5,177 626,182 624.5,186.5 628,188 632,189.5 634,188.5 638,190 642.4,195 645,201 646,207 644,215 641,217.4 638.4,217.4 636.4,214.4 635,211.8 637.6,210.4 637.2,206.6 636.8,203.8 633,204.8 628,202.8 623,200.4 618,196.4 612,193.4 606,190.8 600,192 599,194 600,198 600,199 592,198 580,200 572,198.6 564,197 558,195 548,198 540,201 539,201 534,199 524,196 516,192 508,188 502,189 494,185.4 483,189 482,192 472,194 462,195 457,201 460,205 460.5,211 460,213.5 462,216.5 464,219.5 463,220.5 461,220 458,219.5 454,218 449.5,216.5 447,215 443,213.5 439,212 440,210 442,205.5 444,203.5 443.5,201 441,199 436,197.5 431.5,196.5 428,193.5 426.5,191 425,188 421,185 415,184.5 416,184 415,181 414.5,178 416,176 419,169 417.5,166 416,162 414,158 412,155Z"/>
<path fill="#b30000" d="M446.6,148.2 447.6,143 451,139.4 457,137.4 467,136.6 466.4,139 460,140.6 455.6,143 452.8,146.6 455.2,149 451,150Z"/>
<path fill="#b30000" d="M473,147 476,145 480,148 482,152 479,153 476,151Z"/>
<path fill="#b30000" d="M493,129.4 500,129 508,131 517,133.4 516,134.8 508,133.4 500,131.8 494,131Z"/>
<path fill="#b30000" d="M574,138.6 582,139 590,139.8 596.4,140.6 595.6,142 588,141.4 580,140.6 574.4,139.8Z"/>
<path fill="#b30000" d="M590,140 596,140.6 596.4,141.8 591,141.8Z"/>
<path fill="#b30000" d="M639,188 640.5,188.5 644,192.5 648,196.5 652,200 654.5,201 652,202 654,205 657.5,208 655,208.8 652,205 649,200 645,195 641.5,191.5Z"/>
<path fill="#b30000" d="M655.5,148.2 657,148.5 658.5,149.5 657,149.8 655.8,149.2Z"/>
<path fill="#e34a33" d="M457,201 462,195 472,194 482,192 483,189 494,185.4 502,189 508,188 516,192 524,196 534,199 540,201 539,206 535.6,210 532.4,214 530.4,217.4 526,219.4 517,219.8 512.4,221 508,223 504,223 500,221 493,218 488,217 483,213 480,213 479,223 472,223 464,215 460,209Z"/>
<path fill="#fc8d59" d="M479,211.2 483,210.2 487,212.8 492,214.8 498,214.8 500,216.5 504.5,220.5 507,222.5 509,221 512,220 513,221.5 510,223.5 508.5,225 507,225 508,228 507.5,228.5 505,227 500,225 495,222 490,220 486,218 482,220 478,220.5 478.2,217Z"/>
<path fill="#fdbb84" d="M474,219 476.5,219 478.5,220 482,220 486,218 490,220 495,222 500,225 505,227 507.5,228 508.5,231 506,231.5 502.5,233.5 499,236 496,238 494,234 489,231.5 484,230 480,231 476,232 474,228 473,223Z"/>
<path fill="#fef0d9" d="M512,220 513,218.5 520,217 530,217 532,218.5 528,221 524,222.5 520,223 517,224.5 513,224 513,221.5Z"/>
<path fill="#fc8d59" d="M512.5,222.2 516.5,221.8 516.8,223.2 513,223.6Z"/>
<path fill="#fef0d9" d="M507,225 508.5,225 510,223.5 513,224 517,224.5 520,223 524,224 523,227 524,231.5 521,232.5 518.5,233.5 516,232 513.5,230 510,231.5 509,230 508,228Z"/>
<path fill="#fef0d9" d="M496,238 499,236 502.5,233.5 506,231.5 510,231.5 513.5,230 516,232 518.5,233.5 524,232 524.5,233 518,235 518.5,239 516.5,242.5 515,246 511,248 508,251 504,252.5 500,252 498.5,249.5 499,247 497,244 496,241Z"/>
<path fill="#fef0d9" d="M449.5,216.5 454,218 458,219.5 460,221 457,222 454,221.5 451,220Z"/>
<path fill="#fef0d9" d="M457,221.5 460.5,221.5 462,224.5 464,227 461.5,226.5 459.5,224Z"/>
<path fill="#fdd49e" d="M460.5,223 464.5,220.5 468,221.5 470,225 470,229 467,227 465,229.5 463,227 461.5,227.5 461,225Z"/>
<path fill="#fc8d59" d="M441.3,235.6 444.1,234.2 448.4,233.5 453.3,232.8 453.3,236.3 451.9,240.2 448.7,242.6 445.9,243.4 443.8,244.1 442.7,241.9 442.4,239.1 441.6,237.4Z"/>
<path fill="#fef0d9" d="M440.6,239.1 442.4,239.1 442.7,241.9 443.8,244.1 445.9,243.4 448.7,242.6 449.4,244.4 446.9,246.9 446.2,248.3 446.6,250.1 444.1,251.5 441.3,252.5 440.6,253.9 439.9,251.8 439.2,248.3 439.5,244.8 440.2,241.9Z"/>
<path class="b" d="M440.6,242.3 442.7,241.9"/>
<path class="b" d="M442.7,241.9 442,246.2 441.3,252.5"/>
<path fill="#e34a33" d="M453.3,232.8 458.2,231.7 461.1,234.2 463.2,236.6 462.1,239.1 463.9,242.6 467.4,245.1 469.2,249 468.1,250.4 466,252.9 462.1,252.2 459.6,250.4 456.8,247.6 453.3,245.8 449.4,244.4 448.7,242.6 451.9,240.2 453.3,236.3Z"/>
<path fill="#b30000" d="M458,226.8 460,228.5 461.5,227.5 463,227 465,229.5 467,227.2 469,228.8 471,231.5 474.5,233 478,233 479,231.2 481,230.5 485,229.5 490,230 494,232 497,234 496,238 496,241 497,244 499,247 498.5,249.5 500,252 503.5,257 504,259 501.5,260.5 500.5,263 496,262 491,261.5 490,259.5 487,258.5 483,259 480,257.5 478.7,258.9 475.9,256.1 473.8,253.2 472.4,250.8 470.2,250.4 469.2,249 467.4,245.1 463.9,242.6 462.1,239.1 463.2,236.6 461.1,234.2 459.6,229.2 458.2,227.1Z"/>
<path fill="#b30000" d="M440.6,253.9 446.2,247.6 449.4,246.2 453.3,246.2 456.8,248.3 459.6,250.8 462.1,252.5 466,253.2 469.5,253.6 472.4,256.1 475.2,260.3 475.1,260.5 479.3,266.1 485,269.7 487.8,271.1 487.1,275.3 483.6,278.9 472.3,281.7 469.4,284.5 461.2,284.5 460.2,282.4 456.7,276.8 451,268.3 445.3,260.5 442.5,256.2Z"/>
<path fill="#e34a33" d="M466,252.9 468.1,250.4 469.5,251.8 469.2,253.6Z"/>
<path fill="#fdbb84" d="M477.5,260.5 478.9,260.2 479.3,263.3 477.9,264.3Z"/>
<path fill="#e34a33" d="M480,267.1 485,266.1 488.5,261.9 489.3,265.4 487.8,270.4 485,269.7Z"/>
<path fill="#fc8d59" d="M489.3,265.4 493.5,267.5 497.8,271.1 494.9,276.8 492.1,280.3 487.8,283.8 484.3,285.3 482.2,279.6 487.1,275.3 487.8,271.1 488.5,266.8Z"/>
<path fill="#fdbb84" d="M461.2,285.3 469.4,284.5 472.3,281.7 482.2,279.6 484.3,285.3 479.3,288.8 470.8,293 463,295.5 460.9,290.9Z"/>
<path fill="#fc8d59" d="M524,240 528.4,235.6 534,237.6 537,247 542,252 550,256 560,259 562,256 570,257 578,253 581,257 578,262 574,267 570,266 568,270 563,269 561,274 554,281 548,288 546,298 542,307 539,305 534,292 530,281 528,274 522,272 518,267.6 517.6,263 517,258 522,254 525.6,248 523.6,242.4Z"/>
<path fill="#fdbb84" d="M518.5,233.5 524,232 528,233.5 532,236.5 529,239 525,238.5 524,240 526.5,244 527.5,247 526,251 523,255 518,258.5 519.5,261 522,265 520,266 517,267 514.5,264 510,263 504,263 501.5,262.5 501.5,260.5 504,259 503.5,257 500,252 504,252.5 508,251 511,248 515,246 516.5,242.5 518.5,239 518,235Z"/>
<path fill="#fef0d9" d="M541,250 545,249.6 552,253 560,256.4 560,259.2 554,258.4 547,255.6 541.6,252.4Z"/>
<path fill="#fef0d9" d="M562,256 568,255.6 569.6,258 563.6,259Z"/>
<path fill="#fef0d9" d="M562,263 568,262.4 570,266 571,271 569,272 566,270 563,269Z"/>
<path fill="#fef0d9" d="M547.6,303.2 550,303.6 551.2,307 549.6,310 547.6,308.4Z"/>
<path fill="#fc8d59" d="M539,201 534,205 532,210 528,216 531,218 526,221 524,227 522,233 525,235 530,238 534,240 537,247 542,252 541,250 550,254 560,257 562,256 570,257 578,253 578,253 581,257 585,262 583,267 587,272 590,273 596,269 602,270 607,273 609,275 613,274 618,272 624,269 630,264 633,258 634,252 631,246 626,240 623,235 627,232 624,228 620,229 616,227 620,223 624,224 629,221 637,217 638.5,217 636.5,214 635,211.5 638,210 637.5,206.5 637,203.5 633,204.5 628,202.5 623,200 618,196 612,193 606,190.5 600,189 599,194 600,198 594,200 600,203 592,201 580,203 568,201 558,198 548,200Z"/>
<path fill="#fc8d59" d="M609.6,278.5 612.1,277.1 614.5,278.5 613.6,281.1 610.7,281.4Z"/>
<path fill="#fef0d9" d="M540,201 548,198 558,195 564,197 572,198.6 580,200 592,198 600,199 606,205 600,209 594,213 588,219 580,218 568,216 558,211 549,208 542,204Z"/>
<path fill="#fef0d9" d="M628,224.5 631,221 635,219 638,217 638.5,218.5 636,221 636.5,224 638,227 635.5,229 633,230 631,228 630,226Z"/>
<path fill="#fef0d9" d="M635.5,229 638,228 641,230.5 643.5,234 644,237 642,239 639,239.5 637,236 635,232Z"/>
<path fill="#fef0d9" d="M634,264.8 636.2,263.4 637.2,266.9 636.2,271.9 634.4,270Z"/>
<path fill="#fdd49e" d="M655.5,211 658,212.5 660,214 664,213.5 666.5,215 665,217 662.5,218.5 660,219.5 658.5,218 656.5,217 657,214.5Z"/>
<path fill="#fdd49e" d="M660,221.5 662.5,222.5 665,226 666.5,230 668,234 667,237 664,238.5 661,239.5 658,239 654,240.5 651,242.5 649,244 647,243 649.5,240.5 652,238.5 656,236.5 657.5,233 659.5,231.5 660.5,228 660,224.5Z"/>
<path fill="#fdd49e" d="M646.8,243 649,244.2 652,243 653.5,244 652,246 649.5,247.5 647.8,246Z"/>
<path fill="#fef0d9" d="M578.4,254.2 582,255.6 583.4,261.3 585.5,265.5 589,270.5 591.9,273.3 590.5,276.1 586.9,277.5 584.8,281.1 587.6,286.8 589,291.7 589.8,296.7 589,302.3 588.3,296.7 586.2,289.6 582.7,287.5 579.1,287.5 577,282.5 574.2,275.4 572,270.5 573.5,266.2 574.2,261.3 576.3,257.7Z"/>
<path fill="#fef0d9" d="M591.9,273.3 594.7,270.5 597.1,273.3 600.4,275.4 602.5,279.7 606,284.6 608.9,289.6 607.5,291.7 604.6,290.3 602.5,285.3 599.7,281.8 595.4,282.5 592.6,280.4 590.5,276.1Z"/>
<path fill="#fdd49e" d="M584.8,281.1 586.9,277.5 590.5,276.1 592.6,280.4 595.4,282.5 599.7,281.8 602.5,285.3 603.2,290.3 600.4,291.7 597.5,294.5 598.3,297.4 594.7,296 591.9,295.3 590.5,299.5 591.2,303.8 593.3,308 595.4,311.5 597.5,313.7 596.1,314.4 593.3,312.3 590.5,308 589,302.3 589.8,296.7 589,291.7 587.6,286.8Z"/>
<path fill="#fef0d9" d="M597.5,294.5 600.4,291.7 604.6,291 608.2,292.4 608.9,296 606,299.5 602.5,300.9 599,298.8 598.3,297.4Z"/>
<path fill="#fdbb84" d="M594.7,270.5 599,269 602.5,270.5 605.3,273.3 603.9,276.1 603.2,279.7 606,283.9 609.6,288.2 612.4,293.1 613.1,297.4 611,300.9 606.8,304.5 604.2,305.9 604.6,302.3 608.9,296 608.2,292.4 608.9,289.6 606,284.6 602.5,279.7 600.4,275.4 597.1,273.3Z"/>
<path fill="#fff" d="M460,212.5 461.5,210 464.5,208 468,206.8 471.5,207.5 472.2,210 469.5,211.5 467.5,213.5 469.5,216 471.5,219 474,220 476.5,219.5 478.5,221.5 476,223 475.5,225.5 477.5,228.5 479,231 478,233 474.5,233 471,231.5 468.5,228.5 468.5,225 467,222 464.5,219 462.5,215.5Z"/>
<path fill="#fc8d59" d="M594,313 597.5,313.7 600.4,316.5 601.8,320.8 602.8,325 603.4,328.5 601.4,329 599.4,325 597.1,321 595.4,317.2Z"/>
<path fill="#e34a33" d="M582.4,315 587,315.6 592,321 598,327 603,332 607,337 607.6,343 605,344 601,340 596,333 591,326 586,320Z"/>
<path fill="#e34a33" d="M606,345 612,346 620,348 628,350 628,352 620,351 612,349 606.4,347Z"/>
<path fill="#e34a33" d="M631,350.8 636,350 637,351.6 632,352.4Z"/>
<path fill="#e34a33" d="M639,351 646,350 646.4,351.6 640,352.4Z"/>
<path fill="#e34a33" d="M637,353.6 641,353 641.6,354.8 638,355.2Z"/>
<path fill="#e34a33" d="M647,354.4 650,352.4 651,353.6 648.4,355.6Z"/>
<path fill="#fef0d9" d="M650,352.4 655.6,350.6 656,352 651,353.6Z"/>
<path fill="#fc8d59" d="M617,326 623,320 628,316 632,311 636,314 637.6,316 635,319 629,320 624,324 618,327Z"/>
<path fill="#e34a33" d="M615,326 618,327 624,324 629,320 635,319 637,323 635,329 632,333 631,339 624,338 618,336 615.6,331Z"/>
<path fill="#e34a33" d="M639,327 646,326 652,325 651,327.6 645,329 643,332 647,335 646,339 647,343 644,343 642.4,338 640,343 638,343 637.6,335Z"/>
<path fill="#e34a33" d="M657,324 659,324.4 660,330 658,329.6Z"/>
<path fill="#e34a33" d="M653,337 657,336.4 657.6,338 653.6,338.6Z"/>
<path fill="#e34a33" d="M659,337.6 666,337 668,338.4 662,339.2Z"/>
<path fill="#e34a33" d="M664,331 669,330 673,333 676,335 680,333.6 687.6,335.6 687.2,351 683,350 678,348 675,344 672,340 669,336 665,334Z"/>
<path fill="#e34a33" d="M671.6,343 673.2,342.4 673.6,346.4 672,347Z"/>
<path fill="#fef0d9" d="M687.6,335.6 695,338 701,343 704,348 709,356 704,355 700,352 694,352 690,353 687.2,351Z"/>
<path fill="#fef0d9" d="M704.4,344 709,342.4 714,339 715.6,336.4 716.4,339 713,342.4 709,345 705,345.6Z"/>
<path fill="#fef0d9" d="M719,342.4 722.4,344.4 724,347 721.6,346Z"/>
<path fill="#fef0d9" d="M724.4,347 729,350 729.6,351.6 725.6,349.2Z"/>
<path fill="#fef0d9" d="M637.2,281.1 641.5,281.1 642.2,285.3 640.8,289.6 642.9,292.4 646.4,293.1 645,296 641.5,294.5 638.6,291.7 637.2,286.8Z"/>
<path fill="#fef0d9" d="M643.6,298.1 647.1,296.7 650.7,298.8 651.4,303 648.5,304.5 645.7,303 643.9,300.9Z"/>
<path fill="#fef0d9" d="M648.5,305.2 652.1,304.5 654.2,308 652.8,313.7 650,314.4 648.5,310.8 645,310.1 644.3,308.7 647.8,308Z"/>
<path fill="#fef0d9" d="M632,307.2 637.2,299.5 637.9,300.1 632.7,307.7Z"/>
<path fill="#e34a33" d="M618,392 624,386 632,383 640,376 646,372 650,367 656,365 660,361 664,359 671,360 676,361 674,367 678,371 683,375 686,370 688,362 690,357 692,364 695,369 698,376 702,384 705,392 706,396 705,402 702,409 697,417 692,423 686,427 681,429 676,431 671,429 666,426 664,421 665,417 661,421 659,418 657,413 650,412 642,413 636,415 630,418 624,418 618,420 614,418 617,413 618,406 617,400 618,394Z"/>
<path fill="#e34a33" d="M670,435.6 676,435.6 675,439 671,442.4 668,442 668.4,438Z"/>
<path fill="#fdbb84" d="M739.6,419 741,422 742,426 746,427.6 744,431 739,434 735,437 732.4,437.6 733,434 737,430 739,426 739,422Z"/>
<path fill="#fdbb84" d="M729,435 730,438 724,442 718,445.6 712,449 708,450.4 705,449 708,446.4 714,444 721,440 726,437Z"/>
<path fill="#fef0d9" d="M734.4,381.6 736,381.2 739.6,386 738.4,387.2Z"/>
<path fill="#fef0d9" d="M744,369 745.2,369 745.6,372 744.4,372Z"/>
<path fill="#fef0d9" d="M766.5,374 769,372.8 770,375.5 767.5,376.8Z"/>
<path fill="#fef0d9" d="M770.5,372.5 773.5,371 774,372.2 771,373.6Z"/>
</g>
</svg>
<svg width="850" height="600" viewBox="0 0 850 600">
<defs><pattern id="ndl" width="3" height="3" patternUnits="userSpaceOnUse" patternTransform="rotate(45)"><rect width="3" height="3" fill="#fff"/><path d="M1,0 V3" stroke="#e2e2e2" stroke-width="1.3"/></pattern></defs>
<g stroke="#8a8a8a" stroke-width="0.5">
<line x1="168.5" y1="534" x2="168.5" y2="537"/>
<line x1="212" y1="534" x2="212" y2="548"/>
<line x1="294.2" y1="534" x2="294.2" y2="548"/>
<line x1="376.4" y1="534" x2="376.4" y2="548"/>
<line x1="458.5" y1="534" x2="458.5" y2="548"/>
<line x1="540.6" y1="534" x2="540.6" y2="548"/>
<line x1="622.8" y1="534" x2="622.8" y2="548"/>
</g>
<rect x="144.2" y="537.2" width="48.6" height="11" fill="url(#ndl)" stroke="#c4c4c4" stroke-width="0.7" rx="0.8"/>
<g stroke="#9a9a9a" stroke-width="0.4">
<rect x="212" y="537.2" width="82.2" height="11" fill="#fef0d9"/>
<rect x="294.2" y="537.2" width="82.2" height="11" fill="#fdd49e"/>
<rect x="376.4" y="537.2" width="82.1" height="11" fill="#fdbb84"/>
<rect x="458.5" y="537.2" width="82.1" height="11" fill="#fc8d59"/>
<rect x="540.6" y="537.2" width="82.2" height="11" fill="#e34a33"/>
<path d="M622.8,537.2 H700.5 L705.3,542.7 L700.5,548.2 H622.8 Z" fill="#b30000"/>
</g>
</svg>
<div class="abs lg" style="left:168.8px">No data</div>
<div class="abs lg" style="left:212.8px">0 t</div>
<div class="abs lg" style="left:295.7px">10 million t</div>
<div class="abs lg" style="left:377.5px">30 million t</div>
<div class="abs lg" style="left:459.8px">100 million t</div>
<div class="abs lg" style="left:542.1px">300 million t</div>
<div class="abs lg" style="left:624.5px">1 billion t</div>
<div id="src" class="abs"><b>Data source:</b> Global Carbon Budget (2025)</div>
<div id="url" class="abs">OurWorldinData.org/co2-and-greenhouse-gas-emissions | CC BY</div>
</body>
</html>
